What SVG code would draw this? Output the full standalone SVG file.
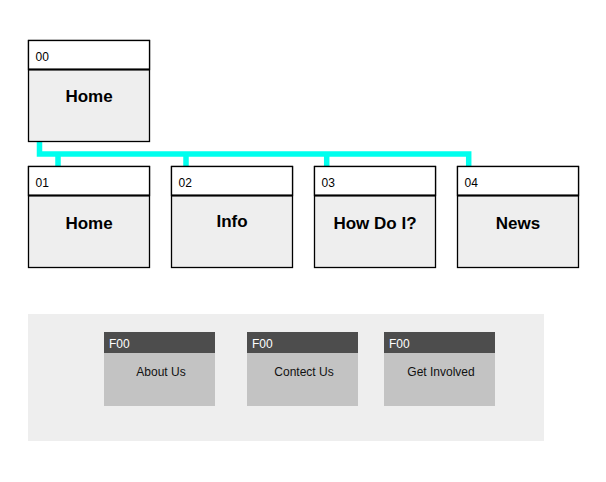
<svg xmlns="http://www.w3.org/2000/svg" width="606" height="482" viewBox="0 0 606 482">
  <style>
    .head { fill: #ffffff; stroke: #000000; stroke-width: 1.3; }
    .body { fill: #eeeeee; stroke: #000000; stroke-width: 1.3; }
    .divider { stroke: #000000; stroke-width: 2; }
    .num { font-family: "Liberation Sans", Arial, sans-serif; font-size: 12px; fill: #000000; }
    .title { font-family: "Liberation Sans", Arial, sans-serif; font-size: 17px; font-weight: bold; fill: #000000; text-anchor: middle; }
    .wire { fill: none; stroke: #00ffee; stroke-width: 5.5; stroke-linejoin: miter; stroke-linecap: butt; }
    .panel { fill: #eeeeee; }
    .ftop { fill: #4d4d4d; }
    .fbody { fill: #c3c3c3; }
    .ftag { font-family: "Liberation Sans", Arial, sans-serif; font-size: 12px; fill: #ffffff; }
    .flabel { font-family: "Liberation Sans", Arial, sans-serif; font-size: 12px; fill: #111111; text-anchor: middle; }
  </style>

  <!-- connectors -->
  <g id="connectors">
    <path class="wire" d="M39.5 141 V154 H468.7 V166.5"/>
    <path class="wire" d="M58 154 V166.5"/>
    <path class="wire" d="M186 154 V166.5"/>
    <path class="wire" d="M326.7 154 V166.5"/>
  </g>

  <!-- root page -->
  <g id="node-00">
    <rect class="body" x="28.5" y="40.5" width="121" height="101"/>
    <rect class="head" x="28.5" y="40.5" width="121" height="29"/>
    <line class="divider" x1="28.5" y1="69.5" x2="149.5" y2="69.5"/>
    <text class="num" x="35.5" y="61">00</text>
    <text class="title" x="89" y="102">Home</text>
  </g>

  <!-- child pages -->
  <g id="node-01">
    <rect class="body" x="28.5" y="166.5" width="121" height="101"/>
    <rect class="head" x="28.5" y="166.5" width="121" height="29"/>
    <line class="divider" x1="28.5" y1="195.5" x2="149.5" y2="195.5"/>
    <text class="num" x="35.5" y="187">01</text>
    <text class="title" x="89" y="229">Home</text>
  </g>

  <g id="node-02">
    <rect class="body" x="171.5" y="166.5" width="121" height="101"/>
    <rect class="head" x="171.5" y="166.5" width="121" height="29"/>
    <line class="divider" x1="171.5" y1="195.5" x2="292.5" y2="195.5"/>
    <text class="num" x="178.5" y="187">02</text>
    <text class="title" x="232" y="226.5">Info</text>
  </g>

  <g id="node-03">
    <rect class="body" x="314.5" y="166.5" width="121" height="101"/>
    <rect class="head" x="314.5" y="166.5" width="121" height="29"/>
    <line class="divider" x1="314.5" y1="195.5" x2="435.5" y2="195.5"/>
    <text class="num" x="321.5" y="187">03</text>
    <text class="title" x="375" y="229">How Do I?</text>
  </g>

  <g id="node-04">
    <rect class="body" x="457.5" y="166.5" width="121" height="101"/>
    <rect class="head" x="457.5" y="166.5" width="121" height="29"/>
    <line class="divider" x1="457.5" y1="195.5" x2="578.5" y2="195.5"/>
    <text class="num" x="464.5" y="187">04</text>
    <text class="title" x="518" y="229">News</text>
  </g>

  <!-- footer area -->
  <g id="footer">
    <rect class="panel" x="28" y="314" width="516" height="127"/>
  </g>

  <g id="footer-about">
    <rect class="fbody" x="104" y="332" width="111" height="74"/>
    <rect class="ftop" x="104" y="332" width="111" height="21"/>
    <text class="ftag" x="109" y="348">F00</text>
    <text class="flabel" x="161" y="376">About Us</text>
  </g>

  <g id="footer-contact">
    <rect class="fbody" x="247" y="332" width="111" height="74"/>
    <rect class="ftop" x="247" y="332" width="111" height="21"/>
    <text class="ftag" x="252" y="348">F00</text>
    <text class="flabel" x="304" y="376">Contect Us</text>
  </g>

  <g id="footer-involved">
    <rect class="fbody" x="384" y="332" width="111" height="74"/>
    <rect class="ftop" x="384" y="332" width="111" height="21"/>
    <text class="ftag" x="389" y="348">F00</text>
    <text class="flabel" x="441" y="376">Get Involved</text>
  </g>
</svg>
